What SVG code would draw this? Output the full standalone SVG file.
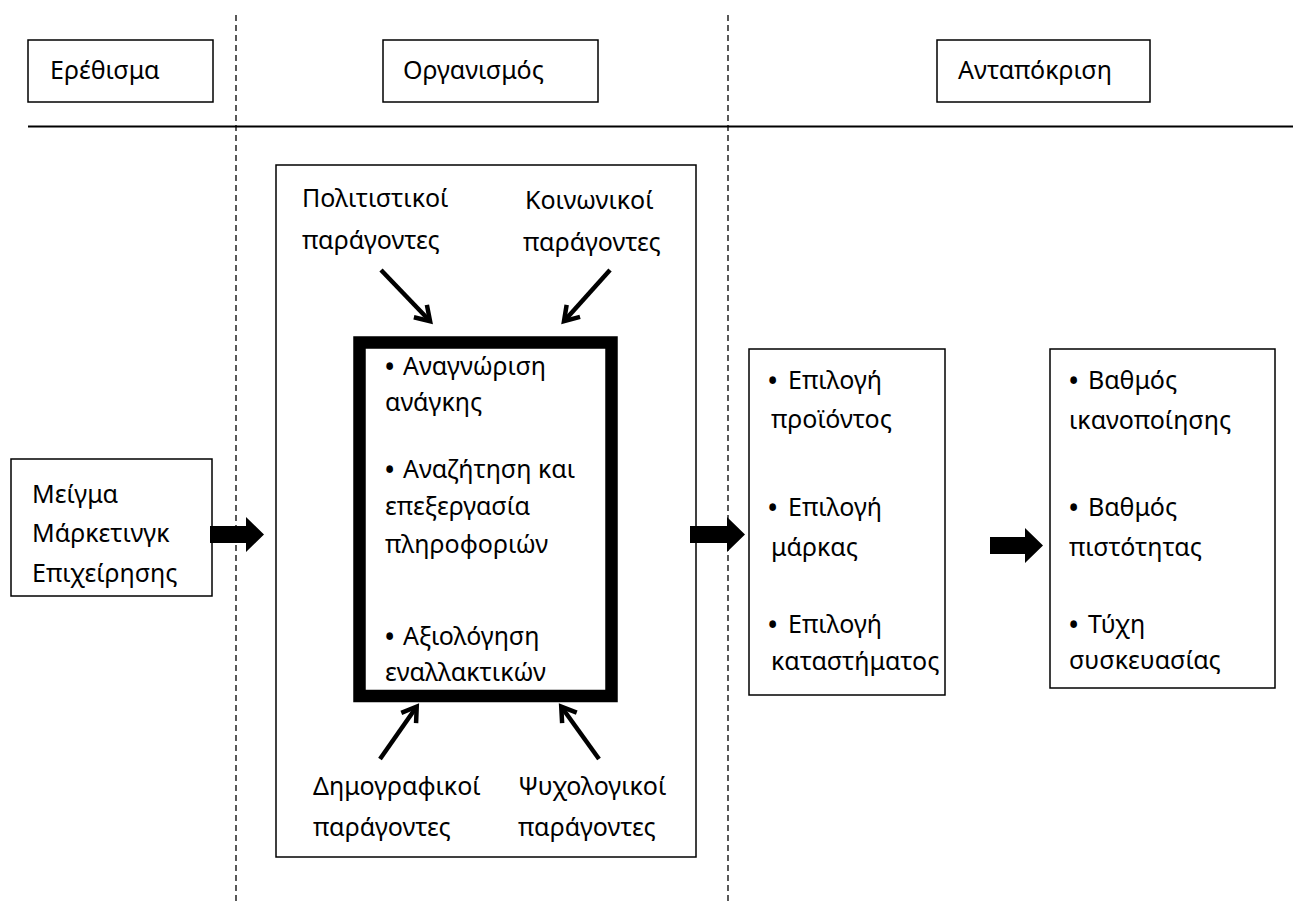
<svg xmlns="http://www.w3.org/2000/svg" width="1293" height="902" viewBox="0 0 1293 902">
<style>
text{font-family:"Noto Sans","Open Sans","DejaVu Sans",sans-serif;font-size:25px;fill:#000}
.b{font-size:30px}
.box{fill:#fff;stroke:#000;stroke-width:1.5}
.dash{stroke:#000;stroke-width:1.3;stroke-dasharray:6,4;fill:none}
.thin{stroke:#000;stroke-width:4.5;fill:none;marker-end:url(#open)}
.block{fill:#000}
</style>
<defs>
<marker id="open" viewBox="0 0 24 24" refX="17" refY="12" markerWidth="24" markerHeight="24" markerUnits="userSpaceOnUse" orient="auto" overflow="visible">
<path d="M6,3 L20,12 L6,21" fill="none" stroke="#000" stroke-width="4.5"/>
</marker>
</defs>
<rect width="1293" height="902" fill="#fff"/>
<g id="dividers">
<line class="dash" x1="236" y1="15" x2="236" y2="902"/>
<line class="dash" x1="728" y1="15" x2="728" y2="902"/>
<line x1="28" y1="126.5" x2="1293" y2="126.5" stroke="#000" stroke-width="2"/>
</g>
<g id="stimulus-header"><rect class="box" x="28" y="40" width="185" height="62"/><text x="50" y="79">Ερέθισμα</text></g>
<g id="organism-header"><rect class="box" x="383" y="40" width="215" height="62"/><text x="403" y="79">Οργανισμός</text></g>
<g id="response-header"><rect class="box" x="937" y="40" width="213" height="62"/><text x="958" y="79">Ανταπόκριση</text></g>
<g id="marketing-mix"><rect class="box" x="11" y="459" width="201" height="137"/>
<text x="32" y="503">Μείγμα</text><text x="32" y="542">Μάρκετινγκ</text><text x="32" y="582">Επιχείρησης</text></g>
<g id="organism"><rect class="box" x="276" y="165" width="420" height="692"/></g>
<g id="cultural"><text x="302" y="207">Πολιτιστικοί</text><text x="302" y="249">παράγοντες</text></g>
<g id="social"><text x="525" y="209">Κοινωνικοί</text><text x="523" y="251">παράγοντες</text></g>
<g id="demographic"><text x="313" y="795">Δημογραφικοί</text><text x="313" y="836">παράγοντες</text></g>
<g id="psychological"><text x="518" y="795">Ψυχολογικοί</text><text x="518" y="836">παράγοντες</text></g>
<g id="decision-process"><rect x="359.5" y="342.5" width="252" height="353.5" fill="#fff" stroke="#000" stroke-width="12.5"/>
<text x="384" y="375"><tspan class="b" dy="3">• </tspan><tspan x="403" dy="-3">Αναγνώριση</tspan></text><text x="385" y="411">ανάγκης</text>
<text x="384" y="478"><tspan class="b" dy="3">• </tspan><tspan x="403" dy="-3">Αναζήτηση και</tspan></text><text x="385" y="515">επεξεργασία</text><text x="385" y="553">πληροφοριών</text>
<text x="384" y="645"><tspan class="b" dy="3">• </tspan><tspan x="403" dy="-3">Αξιολόγηση</tspan></text><text x="385" y="681">εναλλακτικών</text></g>
<g id="choices"><rect class="box" x="749" y="349" width="196" height="346"/>
<text x="767" y="389"><tspan class="b" dy="3">• </tspan><tspan x="788" dy="-3">Επιλογή</tspan></text><text x="771" y="428">προϊόντος</text>
<text x="767" y="516"><tspan class="b" dy="3">• </tspan><tspan x="788" dy="-3">Επιλογή</tspan></text><text x="771" y="556">μάρκας</text>
<text x="767" y="633"><tspan class="b" dy="3">• </tspan><tspan x="788" dy="-3">Επιλογή</tspan></text><text x="771" y="670">καταστήματος</text></g>
<g id="outcomes"><rect class="box" x="1050" y="349" width="225" height="339"/>
<text x="1068" y="389"><tspan class="b" dy="3">• </tspan><tspan x="1088" dy="-3">Βαθμός</tspan></text><text x="1069" y="429">ικανοποίησης</text>
<text x="1068" y="516"><tspan class="b" dy="3">• </tspan><tspan x="1088" dy="-3">Βαθμός</tspan></text><text x="1069" y="556">πιστότητας</text>
<text x="1068" y="633"><tspan class="b" dy="3">• </tspan><tspan x="1088" dy="-3">Τύχη</tspan></text><text x="1069" y="669">συσκευασίας</text></g>
<g id="connectors">
<line class="thin" x1="381" y1="270" x2="428" y2="319"/>
<line class="thin" x1="610" y1="270" x2="566" y2="319"/>
<line class="thin" x1="380" y1="759" x2="415" y2="709"/>
<line class="thin" x1="599" y1="759" x2="563" y2="709"/>
<path class="block" d="M210,526 H246 V517 L264,534.5 L246,552 V543 H210 Z"/>
<path class="block" d="M690,526 H727 V517 L745,534.5 L727,552 V543 H690 Z"/>
<path class="block" d="M990,537 H1025 V528 L1043,545.5 L1025,563 V554 H990 Z"/>
</g>
</svg>
